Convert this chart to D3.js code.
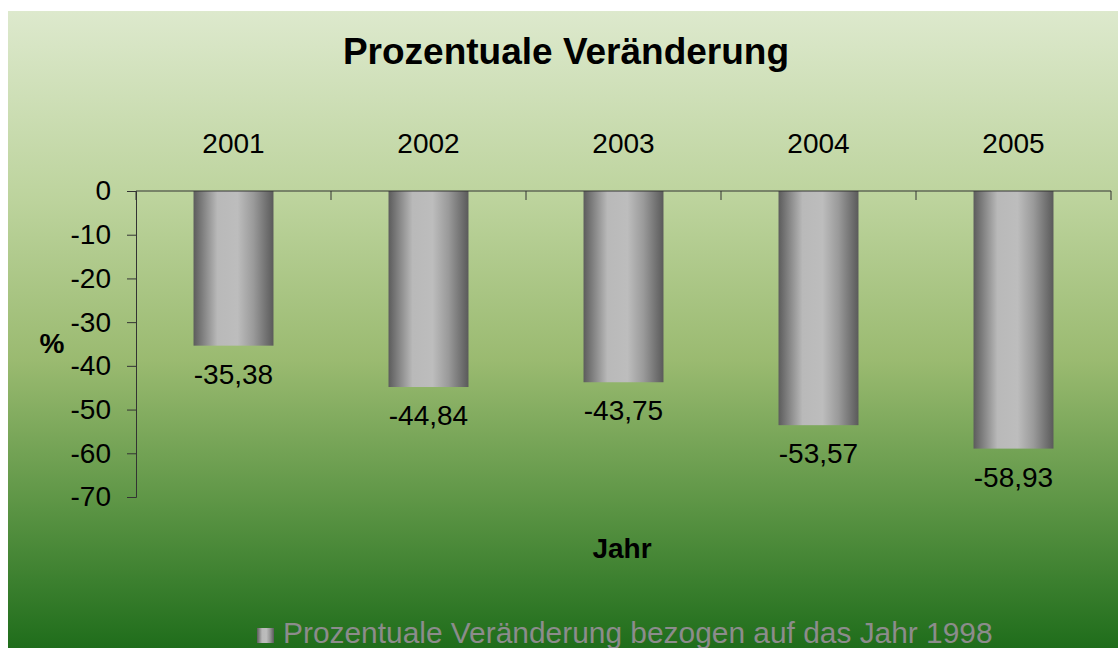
<!DOCTYPE html>
<html>
<head>
<meta charset="utf-8">
<script src="https://cdn.jsdelivr.net/npm/d3@7"></script>
<style>
  html, body { margin: 0; padding: 0; background: #fff; }
  svg { display: block; font-family: "Liberation Sans", Arial, sans-serif; }
</style>
</head>
<body>
<svg id="chart" width="1118" height="648"></svg>
<script>
  var years = ['2001', '2002', '2003', '2004', '2005'];
  var changes = [-35.38, -44.84, -43.75, -53.57, -58.93];
  var yTicks = [0, -10, -20, -30, -40, -50, -60, -70];

  var svg = d3.select('#chart');
  var defs = svg.append('defs');
  var fontFamily = '"Liberation Sans", Arial, sans-serif';

  // hintergrund verlauf
  var bg = defs.append('linearGradient')
      .attr('id', 'bgGrad')
      .attr('x1', 0).attr('y1', 0).attr('x2', 0).attr('y2', 1);
  bg.append('stop').attr('offset', '0%').attr('stop-color', '#dde9cd');
  bg.append('stop').attr('offset', '30%').attr('stop-color', '#bcd39c');
  bg.append('stop').attr('offset', '55%').attr('stop-color', '#9aba70');
  bg.append('stop').attr('offset', '78%').attr('stop-color', '#5b9444');
  bg.append('stop').attr('offset', '100%').attr('stop-color', '#1f6d1b');

  // balken verlauf (zylinder)
  var bar = defs.append('linearGradient')
      .attr('id', 'barGrad')
      .attr('x1', 0).attr('y1', 0).attr('x2', 1).attr('y2', 0);
  bar.append('stop').attr('offset', '0%').attr('stop-color', '#5c5c5c');
  bar.append('stop').attr('offset', '30%').attr('stop-color', '#b9b9b9');
  bar.append('stop').attr('offset', '55%').attr('stop-color', '#bdbdbd');
  bar.append('stop').attr('offset', '75%').attr('stop-color', '#9a9a9a');
  bar.append('stop').attr('offset', '100%').attr('stop-color', '#5a5a5a');

  svg.append('rect')
      .attr('x', 8).attr('y', 11)
      .attr('width', 1110).attr('height', 637)
      .attr('fill', 'url(#bgGrad)');

  var margin = {left: 136, right: 1111, top: 191, bottom: 497};

  var x = d3.scaleBand()
      .domain(years)
      .range([margin.left, margin.right])
      .paddingInner(0.59)
      .paddingOuter(0.295);

  var y = d3.scaleLinear()
      .domain([0, -70])
      .range([margin.top, margin.bottom]);

  function deNum(d) {
    return String(d).replace('.', ',');
  }

  // titel
  svg.append('text')
      .attr('x', 566).attr('y', 64)
      .attr('text-anchor', 'middle')
      .attr('font-size', 37).attr('font-weight', 'bold')
      .text('Prozentuale Veränderung');

  // balken
  svg.append('g').selectAll('rect')
      .data(changes)
      .join('rect')
      .attr('x', function(d, i) { return x(years[i]); })
      .attr('y', y(0))
      .attr('width', x.bandwidth())
      .attr('height', function(d) { return y(d) - y(0); })
      .attr('fill', 'url(#barGrad)');

  // werte
  svg.append('g').selectAll('text')
      .data(changes)
      .join('text')
      .attr('x', function(d, i) { return x(years[i]) + x.bandwidth() / 2; })
      .attr('y', function(d) { return y(d) + 38; })
      .attr('text-anchor', 'middle')
      .attr('font-size', 28)
      .text(function(d) { return deNum(d.toFixed(2)); });

  // y achse
  var yAxis = svg.append('g')
      .attr('transform', 'translate(' + margin.left + ',0)')
      .call(d3.axisLeft(y)
        .tickValues(yTicks)
        .tickFormat(function(d) { return String(d); })
        .tickSize(9)
        .tickPadding(16));
  yAxis.select('.domain').attr('stroke', '#333');
  yAxis.selectAll('.tick line').attr('stroke', '#333');
  yAxis.selectAll('.tick text')
      .attr('font-size', 28).attr('fill', '#000')
      .attr('font-family', fontFamily);

  // x achse (oben bei 0, beschriftung oben)
  var xEdges = d3.range(years.length + 1).map(function(i) {
    return margin.left + i * x.step();
  });
  var xAxis = svg.append('g');
  xAxis.append('line')
      .attr('x1', margin.left).attr('x2', margin.right)
      .attr('y1', y(0)).attr('y2', y(0))
      .attr('stroke', '#333');
  xAxis.selectAll('.edge')
      .data(xEdges)
      .join('line')
      .attr('class', 'edge')
      .attr('x1', function(d) { return d; }).attr('x2', function(d) { return d; })
      .attr('y1', y(0)).attr('y2', y(0) + 9)
      .attr('stroke', '#333');
  xAxis.selectAll('text')
      .data(years)
      .join('text')
      .attr('x', function(d) { return x(d) + x.bandwidth() / 2; })
      .attr('y', 153)
      .attr('text-anchor', 'middle')
      .attr('font-size', 28)
      .text(function(d) { return d; });

  // achsentitel
  svg.append('text')
      .attr('x', 52).attr('y', 353)
      .attr('text-anchor', 'middle')
      .attr('font-size', 28).attr('font-weight', 'bold')
      .text('%');
  svg.append('text')
      .attr('x', 622).attr('y', 558)
      .attr('text-anchor', 'middle')
      .attr('font-size', 28).attr('font-weight', 'bold')
      .text('Jahr');

  // legende
  svg.append('rect')
      .attr('x', 257).attr('y', 628)
      .attr('width', 17).attr('height', 15)
      .attr('fill', 'url(#barGrad)');
  svg.append('text')
      .attr('x', 283).attr('y', 643)
      .attr('font-size', 29.9).attr('fill', '#8c8c8c')
      .text('Prozentuale Veränderung bezogen auf das Jahr 1998');
</script>
</body>
</html>
